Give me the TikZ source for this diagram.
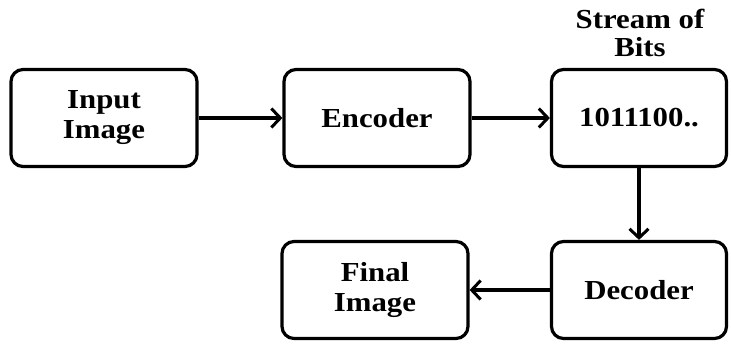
\documentclass[tikz,border=0pt]{standalone}
\usepackage{fontspec}
\setmainfont[FakeStretch=1.12]{Liberation Serif}
\usetikzlibrary{arrows.meta}

\tikzset{
  block/.style={draw, line width=3.2pt, rounded corners=12pt, align=center,
    minimum width=186pt, minimum height=97pt, font=\fontsize{27.5}{30}\selectfont\bfseries},
  flow/.style={line width=3.2pt, -{Straight Barb[length=9pt,width=19pt,line width=3pt]}}
}

\begin{document}
\begin{tikzpicture}[x=1pt, y=-1pt]
      \useasboundingbox (0, 0) rectangle (731, 343);
      \node[block] (input) at (104, 118) {Input\\Image};
      \node[block] (encoder) at (377, 118) {Encoder};
      \node[block, minimum width=175pt] (stream) at (639, 118) {1011100..};
      \node[block, minimum width=175pt] (decoder) at (639, 290) {Decoder};
      \node[block] (final) at (375, 290) {Final\\Image};
      \node[align=center, font=\fontsize{27.5}{28}\selectfont\bfseries] (streamlabel) at (640, 33) {Stream of\\Bits};
      \draw[flow] (input) -- (encoder);
      \draw[flow] (encoder) -- (stream);
      \draw[flow] (stream) -- (decoder);
      \draw[flow] (decoder) -- (final);
    \end{tikzpicture}
\end{document}
